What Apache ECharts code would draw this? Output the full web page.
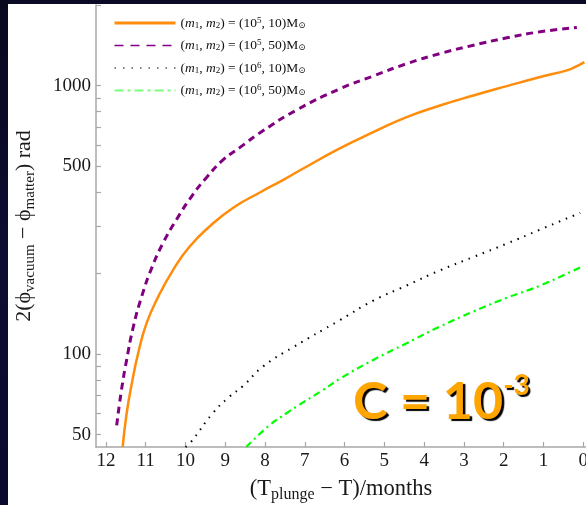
<!DOCTYPE html>
<html>
<head>
<meta charset="utf-8">
<script src="https://cdn.jsdelivr.net/npm/echarts@6/dist/echarts.min.js"></script>
<style>
  html, body { margin: 0; padding: 0; background: #fff; }
  #wrap { position: relative; width: 586px; height: 505px; overflow: hidden; background: #fff; }
  .band-top { position: absolute; left: 0; top: 0; width: 586px; height: 4px; background: #0a0a26; }
  .band-left { position: absolute; left: 0; top: 0; width: 8px; height: 505px;
               background: linear-gradient(180deg, #08081e 0%, #0d0d33 50%, #0a0a2c 100%); }
  #chart { position: absolute; left: 0; top: 0; width: 586px; height: 505px; }
</style>
</head>
<body>
<div id="wrap">
  <div class="band-top"></div>
  <div class="band-left"></div>
  <div id="chart"></div>
</div>
<script>
// Accumulated phase difference vs. time before plunge, for four mass pairs.
// Months before plunge (x) and phase difference in rad (y), one pair of arrays per curve.
const monthsA = [11.58, 11.48, 11.35, 11.19, 10.98, 10.68, 10.31, 9.89, 9.38, 8.80, 8.13, 7.54, 7.12, 6.11, 5.28, 4.44, 3.60, 2.76, 1.92, 1.08, 0.41, 0.20, -0.03];
const phaseA  = [45, 60, 77.6, 100.6, 130, 164, 206, 252, 300, 351, 400, 446, 484, 585, 671, 764, 844, 920, 997, 1078, 1141, 1175, 1225];

const monthsB = [11.73, 11.61, 11.48, 11.31, 11.10, 10.85, 10.56, 10.22, 9.84, 9.47, 9.05, 8.63, 8.08, 7.22, 6.11, 5.28, 4.44, 3.60, 2.76, 1.92, 1.08, 0.16];
const phaseB  = [54.2, 73.3, 94.9, 126.6, 164, 209, 260, 318, 388, 455, 530, 589, 675, 810, 975, 1087, 1208, 1318, 1416, 1509, 1589, 1649];

const monthsC = [10.0, 9.86, 9.32, 8.90, 8.55, 8.06, 7.29, 6.11, 5.28, 4.44, 3.60, 2.76, 1.92, 1.08, 0.075];
const phaseC  = [45, 47, 60, 69.2, 76, 89.6, 106, 134, 158, 180, 205, 230, 258, 291, 336];

const monthsD = [8.47, 7.89, 7.47, 7.20, 6.55, 6.11, 5.28, 4.44, 3.60, 2.76, 1.92, 1.08, 0.03];
const phaseD  = [45, 54.2, 60, 63.8, 73.3, 81, 95, 109.7, 126.6, 144, 162, 180, 212];

// Axis extents and ticks (months before plunge; the axis runs from 12 down to 0)
const monthRange = [-0.07, 12.25];
const phaseRange = [45, 2000];
const monthTicks = [0, 1, 2, 3, 4, 5, 6, 7, 8, 9, 10, 11, 12];
const phaseLabels = [50, 100, 500, 1000];
const phaseTicks = [50, 60, 70, 80, 90, 100, 200, 300, 400, 500, 600, 700, 800, 900, 1000, 2000];

// Legend entries (rich text)
const seriesNames = ['pair1', 'pair2', 'pair3', 'pair4'];
const legendLabels = {
  pair1: '{p|(}{i|m}{s|1}{p|, }{i|m}{s|2}{p|) = (10}{u|5}{p|, 10)M}{s|⊙}',
  pair2: '{p|(}{i|m}{s|1}{p|, }{i|m}{s|2}{p|) = (10}{u|5}{p|, 50)M}{s|⊙}',
  pair3: '{p|(}{i|m}{s|1}{p|, }{i|m}{s|2}{p|) = (10}{u|6}{p|, 10)M}{s|⊙}',
  pair4: '{p|(}{i|m}{s|1}{p|, }{i|m}{s|2}{p|) = (10}{u|6}{p|, 50)M}{s|⊙}'
};

const SERIF = '"Liberation Serif", "DejaVu Serif", serif';
const AXIS_GREY = '#a8a8a8';

// Time runs leftwards: the x axis holds negated months, labels show them as positive.
const toAxis = m => -m;
function zip(xs, ys) { return xs.map((x, i) => [toAxis(x), ys[i]]); }

const chart = echarts.init(document.getElementById('chart'), null, { renderer: 'canvas' });

const legendRich = {
  p: { fontFamily: SERIF, fontSize: 13.5, color: '#111', lineHeight: 14 },
  i: { fontFamily: SERIF, fontSize: 13.5, fontStyle: 'italic', color: '#111', lineHeight: 14 },
  s: { fontFamily: SERIF, fontSize: 9, color: '#111', lineHeight: 8, verticalAlign: 'bottom' },
  u: { fontFamily: SERIF, fontSize: 9, color: '#111', lineHeight: 8, verticalAlign: 'top' }
};

const hiddenSymbol = { color: 'rgba(0,0,0,0)', borderWidth: 0, opacity: 0 };

const option = {
  animation: false,
  grid: { left: 96, right: 0, top: 5, bottom: 58, containLabel: false, outerBoundsMode: 'none' },
  legend: {
    orient: 'vertical',
    left: 113,
    top: 16,
    padding: 0,
    itemWidth: 61,
    itemHeight: 14,
    itemGap: 8.5,
    selectedMode: false,
    itemStyle: hiddenSymbol,
    data: [
      { name: 'pair1', itemStyle: hiddenSymbol, lineStyle: { width: 3 } },
      { name: 'pair2', itemStyle: hiddenSymbol, lineStyle: { width: 1.5, type: [9, 7] } },
      { name: 'pair3', itemStyle: hiddenSymbol, lineStyle: { width: 1.2, type: [1.5, 7] } },
      { name: 'pair4', itemStyle: hiddenSymbol, lineStyle: { width: 2, color: '#7dff7d', type: [9, 4, 3, 4] } }
    ],
    formatter: name => legendLabels[name],
    textStyle: { fontFamily: SERIF, fontSize: 13.5, color: '#111', rich: legendRich }
  },
  xAxis: {
    type: 'value',
    min: toAxis(monthRange[1]),
    max: toAxis(monthRange[0]),
    splitLine: { show: false },
    axisLine: { show: true, onZero: false, lineStyle: { color: AXIS_GREY, width: 1.5 } },
    axisTick: { show: true, inside: true, length: 5, customValues: monthTicks.map(toAxis),
                lineStyle: { color: AXIS_GREY, width: 1.2 } },
    axisLabel: { customValues: monthTicks.map(toAxis), formatter: v => String(Math.abs(v)),
                 fontFamily: SERIF, fontSize: 19, color: '#1a1a1a', margin: 5 },
    name: '(T{s|plunge} − T)/months',
    nameLocation: 'middle',
    nameGap: 29,
    nameTextStyle: {
      fontFamily: SERIF, fontSize: 22.5, color: '#1a1a1a', lineHeight: 27,
      rich: { s: { fontFamily: SERIF, fontSize: 16, color: '#1a1a1a', lineHeight: 15, verticalAlign: 'bottom' } }
    }
  },
  yAxis: {
    type: 'log',
    logBase: 10,
    min: phaseRange[0],
    max: phaseRange[1],
    position: 'left',
    splitLine: { show: false },
    axisLine: { show: true, onZero: false, lineStyle: { color: AXIS_GREY, width: 1.5 } },
    axisTick: { show: true, inside: true, length: 5, customValues: phaseTicks,
                lineStyle: { color: AXIS_GREY, width: 1.2 } },
    axisLabel: { customValues: phaseLabels, formatter: v => String(v),
                 fontFamily: SERIF, fontSize: 19, color: '#1a1a1a', margin: 5 }
  },
  graphic: [
    {
      type: 'text',
      x: 24,
      y: 226,
      rotation: Math.PI / 2,
      style: {
        text: '2(ϕ{sub|vacuum} − ϕ{sub|matter}) rad',
        fontFamily: SERIF,
        fontSize: 22,
        fill: '#1a1a1a',
        align: 'center',
        verticalAlign: 'middle',
        lineHeight: 28,
        rich: {
          sub: { fontFamily: SERIF, fontSize: 15, fill: '#1a1a1a', lineHeight: 15, verticalAlign: 'bottom' }
        }
      }
    },
    {
      type: 'text',
      x: 353,
      y: 402,
      z: 10,
      style: {
        text: '{a|C = 10}{b|-3}',
        align: 'left',
        verticalAlign: 'middle',
        rich: {
          a: { fontFamily: 'Lato, "Open Sans", sans-serif', fontWeight: 'bold', fontSize: 52, lineHeight: 60,
               fill: '#ffa500', textShadowColor: '#000', textShadowOffsetX: 2.5, textShadowOffsetY: 2.5, textShadowBlur: 1 },
          b: { fontFamily: 'Lato, "Open Sans", sans-serif', fontWeight: 'bold', fontSize: 28, lineHeight: 40, verticalAlign: 'top',
               fill: '#ffa500', textShadowColor: '#000', textShadowOffsetX: 2, textShadowOffsetY: 2, textShadowBlur: 1 }
        }
      }
    }
  ],
  series: [
    {
      name: seriesNames[0], type: 'line', symbol: 'none', smooth: 0.5,
      data: zip(monthsA, phaseA),
      lineStyle: { color: '#ff8c0a', width: 2.5 },
      itemStyle: { color: '#ff8c0a' }
    },
    {
      name: seriesNames[1], type: 'line', symbol: 'none', smooth: 0.5,
      data: zip(monthsB, phaseB),
      lineStyle: { color: '#800080', width: 3, type: [7, 5] },
      itemStyle: { color: '#800080' }
    },
    {
      name: seriesNames[2], type: 'line', symbol: 'none', smooth: 0.5,
      data: zip(monthsC, phaseC),
      lineStyle: { color: '#000000', width: 2, type: [1.5, 6] },
      itemStyle: { color: '#000000' }
    },
    {
      name: seriesNames[3], type: 'line', symbol: 'none', smooth: 0.5,
      data: zip(monthsD, phaseD),
      lineStyle: { color: '#00ff00', width: 2.2, type: [7, 4, 2, 4] },
      itemStyle: { color: '#00ff00' }
    }
  ]
};

chart.setOption(option);
</script>
</body>
</html>
